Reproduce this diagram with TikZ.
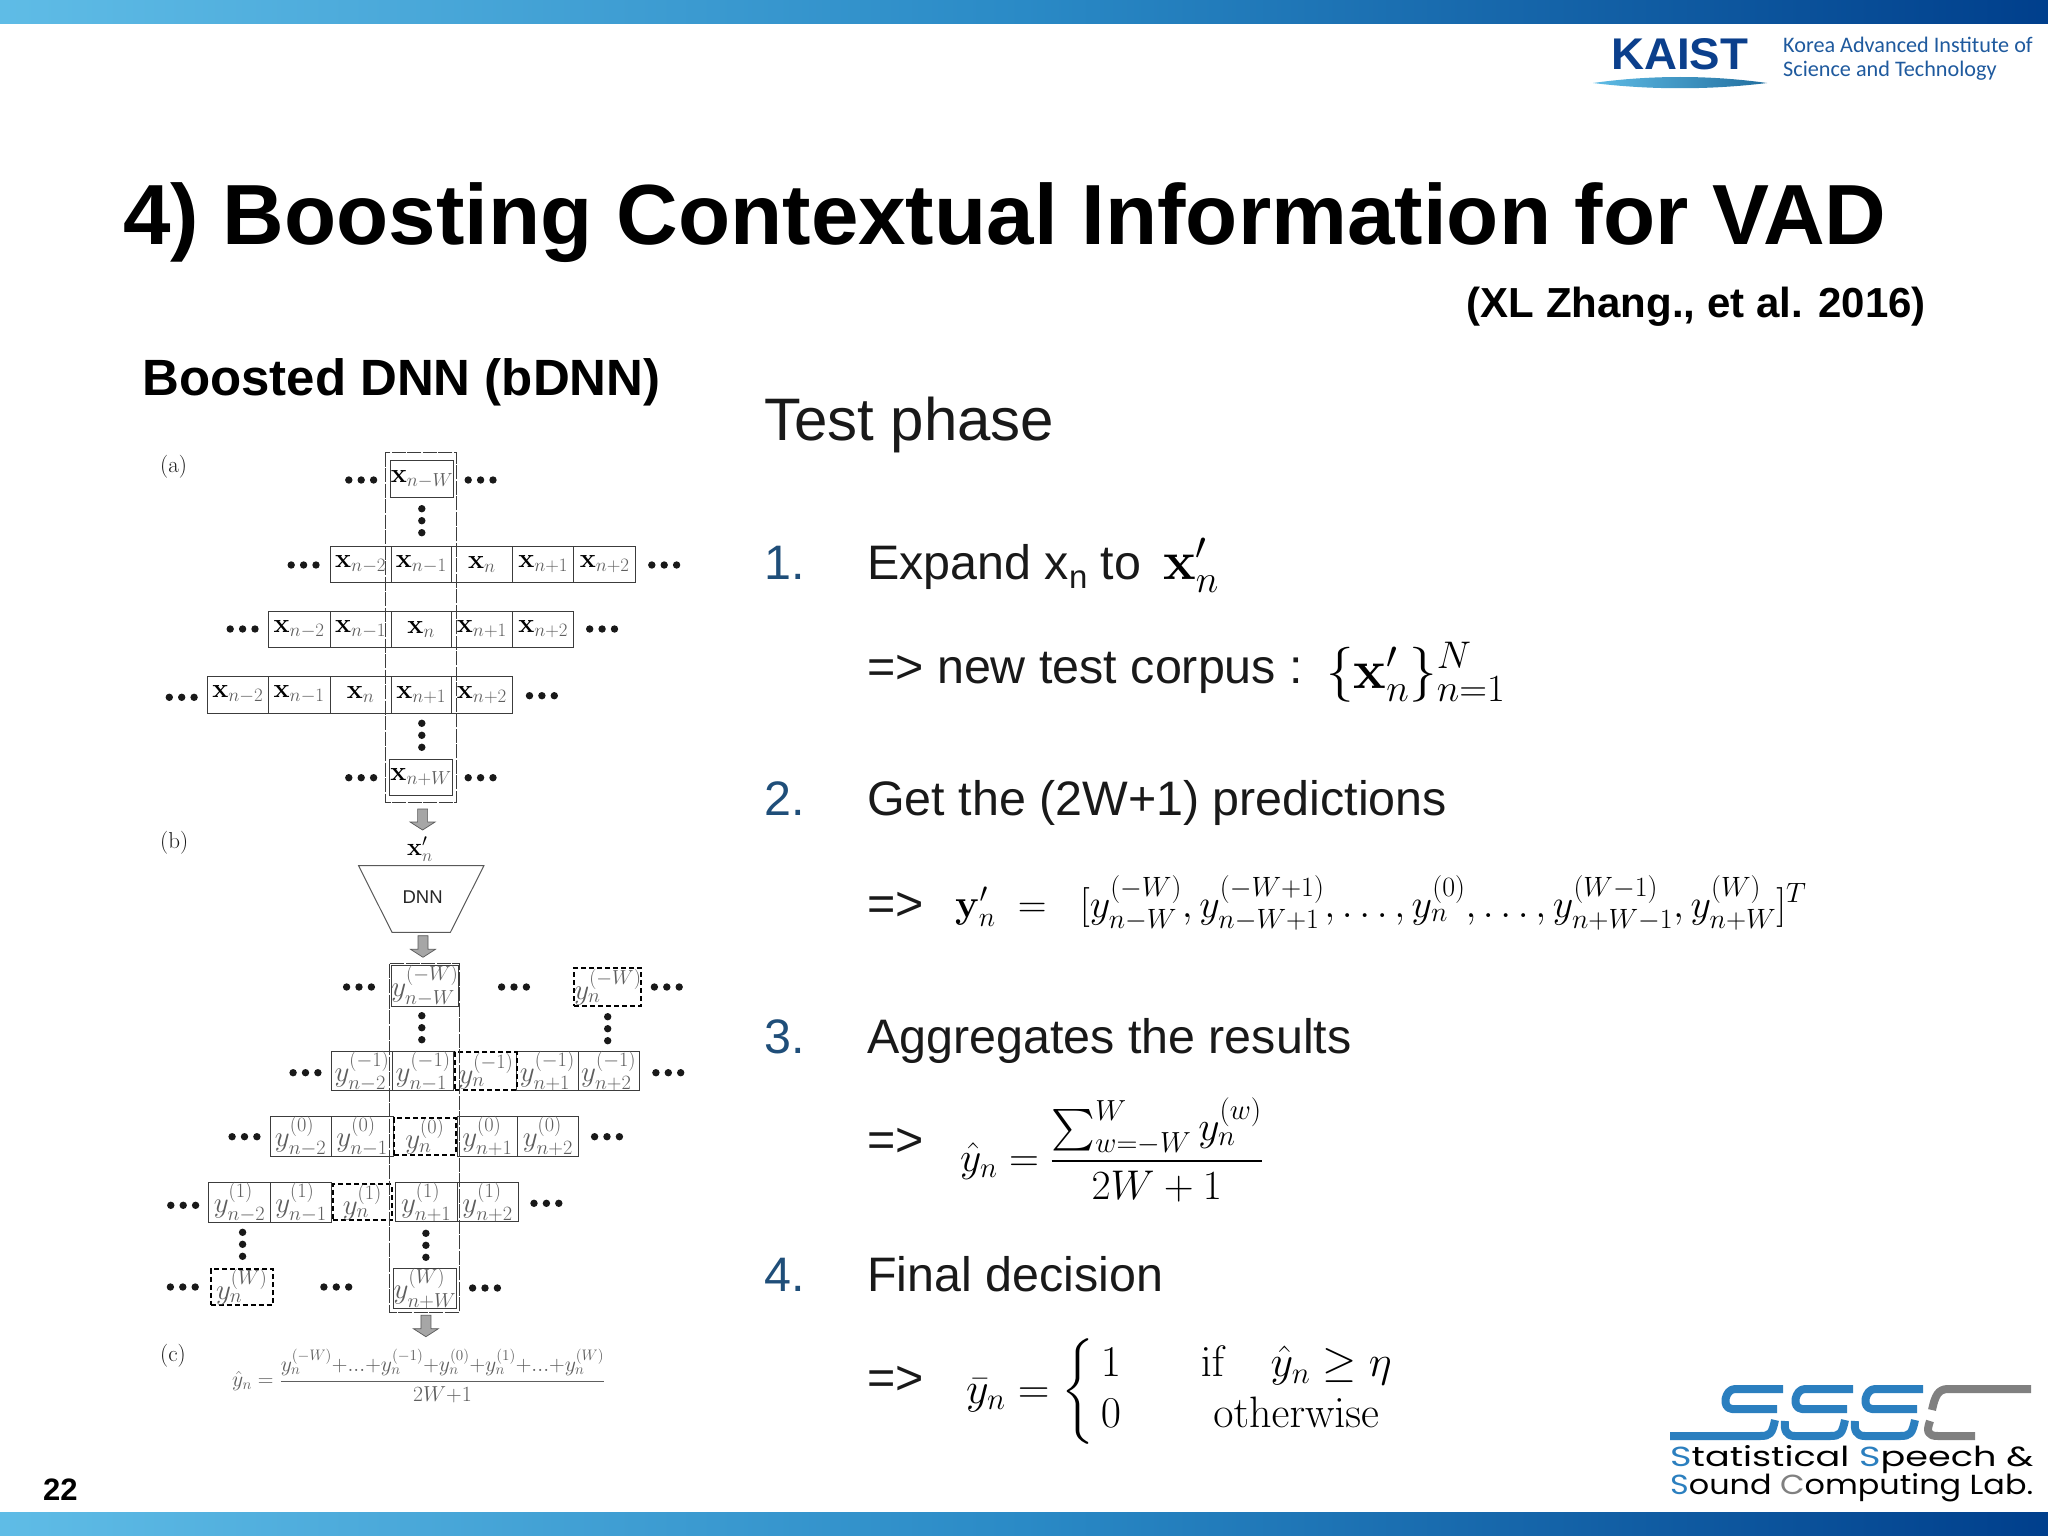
\documentclass[tikz,border=0pt]{standalone}
\usepackage{fix-cm}
\usepackage{amsmath,amssymb,graphicx}
\usepackage[no-math]{fontspec}
\setmainfont{Liberation Sans}
\newfontfamily\carlito{Carlito}
\newfontfamily\popp{Poppins}
\definecolor{fgray}{HTML}{5E5E5E}
\definecolor{numblue}{HTML}{1F4E79}
\definecolor{kaistblue}{HTML}{0B3F8C}
\definecolor{kaisttext}{HTML}{1F5A9E}
\definecolor{ssscblue}{HTML}{2B7FBF}
\definecolor{ssscgray}{HTML}{808080}
\definecolor{cline}{HTML}{3C3C3C}
\definecolor{barL}{HTML}{5FBCE6}
\definecolor{barM}{HTML}{2A8AC6}
\definecolor{barR}{HTML}{003F8C}
\newcommand{\fs}[1]{\fontsize{#1}{#1}\selectfont}
\newcommand{\xc}[1]{\mathbf{x}_{\textcolor{fgray}{#1}}}
\newcommand{\yc}[2]{\textcolor{fgray}{y_{#1}^{(#2)}}}
% cell{name}{x1}{y1}{x2}{y2}{style}{content}
\newcommand{\cellbox}[7]{\node[#6,minimum width={(#4-#2)*1pt},minimum height={(#5-#3)*1pt}] (#1) at ({(#2+#4)/2},{(#3+#5)/2}) {$#7$};}
\newcommand{\hd}[2]{\foreach \dx in {-12.4,0,12.4}{\fill[black!90] ({#1+\dx},#2) circle (3.7);}}
\newcommand{\vd}[2]{\foreach \dy in {-12,0,12}{\fill[black!90] (#1,{#2+\dy}) circle (3.7);}}
\newcommand{\blockarrow}[3]{\draw[blockarrow] ({#1-5},#2) -- ({#1+5},#2) -- ({#1+5},{#3-8}) -- ({#1+12.5},{#3-8}) -- (#1,#3) -- ({#1-12.5},{#3-8}) -- ({#1-5},{#3-8}) -- cycle;}
\tikzset{
  cellx/.style={draw=cline,line width=1pt,inner sep=0pt,font=\fs{27}},
  celly/.style={draw=cline,line width=1pt,inner sep=0pt,font=\fs{29}},
  celld/.style={draw=black,line width=2pt,dash pattern=on 5pt off 3pt,inner sep=0pt,font=\fs{29}},
  outerdash/.style={draw=cline,line width=1pt,dash pattern=on 14pt off 1.5pt},
  blockarrow/.style={draw=black!65,line width=0.7pt,fill=black!35},
  body/.style={anchor=base west,inner sep=0pt,font=\fs{48.4},text=black!90},
  num/.style={anchor=base west,inner sep=0pt,font=\fs{48.4},text=numblue},
  panel/.style={anchor=west,inner sep=0pt,font=\fontfamily{lmr}\fs{23},text=black!90},
  titlet/.style={anchor=base west,inner sep=0pt,font=\bfseries\fs{85.4},text=black},
  sbar/.style={draw=ssscblue,line width=8pt,line cap=butt,line join=round},
  cbar/.style={draw=ssscgray,line width=8pt,line cap=butt,line join=round},
}
\begin{document}
\begin{tikzpicture}[x=1pt,y=-1pt]
\useasboundingbox (0,0) rectangle (2048,1536);
\fill[white] (0,0) rectangle (2048,1536);
% bars
\shade[left color=barL,right color=barR,middle color=barM] (0,0) rectangle (2048,24);
\shade[left color=barL,right color=barR,middle color=barM] (0,1512) rectangle (2048,1536);
% KAIST logo
\node[anchor=north west,inner sep=0pt,text=kaistblue] (kaist) at (1611,38) {\resizebox{137pt}{31pt}{\bfseries KAIST}};
\shade[left color=barL,right color=barM!80!black] (1593,83) .. controls (1650,75) and (1710,75) .. (1767,83) .. controls (1710,90) and (1650,90) .. (1593,83) -- cycle;
\node[anchor=base west,inner sep=0pt,text=kaisttext,font=\carlito\fs{22.2}] (kaistA) at (1783,53) {Korea Advanced Institute of};
\node[anchor=base west,inner sep=0pt,text=kaisttext,font=\carlito\fs{22.2}] (kaistB) at (1783,77) {Science and Technology};
% Title
\node[titlet] (title) at (123,244) {4) Boosting Contextual Information for VAD};
\node[anchor=base east,inner sep=0pt,font=\bfseries\fs{42}] (cite) at (1926,317) {(XL Zhang., et al. 2016)};
\node[anchor=base west,inner sep=0pt,font=\bfseries\fs{51}] (bdnn) at (142,395) {Boosted DNN (bDNN)};
\node[anchor=base west,inner sep=0pt,font=\fs{60},text=black!90] (test) at (764,440) {Test phase};
% Right column
\node[num] (n1) at (764,579) {1.};
\node[body] (t1) at (867,579) {Expand x\raisebox{-9pt}{\fs{33}n} to};
\node[anchor=base west,inner sep=0pt,font=\fs{55}] (f1) at (1163,579) {$\mathbf{x}'_n$};
\node[body] (t1b) at (867,683) {=> new test corpus :};
\node[anchor=base west,inner sep=0pt,font=\fs{55}] (f1b) at (1326,688) {$\{\mathbf{x}'_n\}_{n=1}^{N}$};
\node[num] (n2) at (764,815) {2.};
\node[body] (t2) at (867,815) {Get the (2W+1) predictions};
\node[body] (t2b) at (867,920) {=>};
\node[anchor=base west,inner sep=0pt,font=\fs{39.9}] (f2) at (955,917) {$\mathbf{y}'_n\;=\;\;[y_{n-W}^{(-W)},y_{n-W+1}^{(-W+1)},\dots,y_n^{(0)},\dots,y_{n+W-1}^{(W-1)},y_{n+W}^{(W)}]^T$};
\node[num] (n3) at (764,1053) {3.};
\node[body] (t3) at (867,1053) {Aggregates the results};
\node[body] (t3b) at (867,1156) {=>};
\node[anchor=west,inner sep=0pt,font=\fs{41.5}] (f3) at (960,1150) {$\displaystyle \hat y_n=\frac{\sum_{w=-W}^{W}y_n^{(w)}}{2W+1}$};
\node[num] (n4) at (764,1291) {4.};
\node[body] (t4) at (867,1291) {Final decision};
\node[body] (t4b) at (867,1394) {=>};
\node[anchor=west,inner sep=0pt,font=\fs{44}] (f4) at (966,1392) {\renewcommand{\arraystretch}{1.15}\setlength{\arraycolsep}{40pt}$\displaystyle \bar y_n=\left\{\hspace{-34pt}\begin{array}{cc}1&\mathrm{if}\quad\hat y_n\ge\eta\\0&\mathrm{otherwise}\end{array}\hspace{-40pt}\right.$};
% page number
\node[anchor=base west,inner sep=0pt,font=\bfseries\fs{31}] (page) at (43,1500) {22};
% SSSC logo
\draw[sbar] (1783,1389) -- (1735,1389) .. controls (1725,1389) and (1721,1408) .. (1732,1409) -- (1777,1409);
\draw[sbar] (1775,1420) .. controls (1772,1434) and (1770,1436) .. (1760,1436) -- (1670,1436);
\draw[sbar] (1853,1389) -- (1805,1389) .. controls (1795,1389) and (1791,1408) .. (1802,1409) -- (1847,1409);
\draw[sbar] (1845,1420) .. controls (1842,1434) and (1840,1436) .. (1830,1436) -- (1795,1436) .. controls (1786,1436) and (1784,1430) .. (1785,1421);
\draw[sbar] (1923,1389) -- (1875,1389) .. controls (1865,1389) and (1861,1408) .. (1872,1409) -- (1917,1409);
\draw[sbar] (1915,1420) .. controls (1912,1434) and (1910,1436) .. (1900,1436) -- (1865,1436) .. controls (1856,1436) and (1854,1430) .. (1855,1421);
\draw[cbar] (2031,1389) -- (1948,1389) .. controls (1938,1389) and (1935,1396) .. (1932,1410);
\draw[cbar] (1930,1421) .. controls (1926,1432) and (1928,1436) .. (1938,1436) -- (1975,1436);
\node[anchor=west,inner sep=0pt] (lab1) at (1670,1460) {\resizebox{363pt}{21pt}{\popp\textcolor{ssscblue}{S}tatistical \textcolor{ssscblue}{S}peech \&}};
\node[anchor=west,inner sep=0pt] (lab2) at (1670,1488) {\resizebox{363pt}{21pt}{\popp\textcolor{ssscblue}{S}ound \textcolor{ssscgray}{C}omputing Lab.}};
% ---- Panel (a)
\node[panel] (pa) at (160,467) {(a)};
\cellbox{a0}{391.3}{460.7}{452.7}{497.3}{cellx}{\xc{n-W}}
\cellbox{a1a}{330}{546}{391.3}{582.7}{cellx}{\xc{n-2}}
\cellbox{a1b}{391.3}{546}{451.2}{582.7}{cellx}{\xc{n-1}}
\cellbox{a1c}{451.2}{546}{512.5}{582.7}{cellx}{\xc{n}}
\cellbox{a1d}{512.5}{546}{573.9}{582.7}{cellx}{\xc{n+1}}
\cellbox{a1e}{573.9}{546}{635.6}{582.7}{cellx}{\xc{n+2}}
\cellbox{a2a}{268.3}{611.3}{330}{647.7}{cellx}{\xc{n-2}}
\cellbox{a2b}{330}{611.3}{391.3}{647.7}{cellx}{\xc{n-1}}
\cellbox{a2c}{391.3}{611.3}{451.2}{647.7}{cellx}{\xc{n}}
\cellbox{a2d}{451.2}{611.3}{512.5}{647.7}{cellx}{\xc{n+1}}
\cellbox{a2e}{512.5}{611.3}{573.9}{647.7}{cellx}{\xc{n+2}}
\cellbox{a3a}{207.3}{676.3}{268.3}{713}{cellx}{\xc{n-2}}
\cellbox{a3b}{268.3}{676.3}{330}{713}{cellx}{\xc{n-1}}
\cellbox{a3c}{330}{676.3}{391.3}{713}{cellx}{\xc{n}}
\cellbox{a3d}{391.3}{676.3}{451.2}{713}{cellx}{\xc{n+1}}
\cellbox{a3e}{451.2}{676.3}{512.5}{713}{cellx}{\xc{n+2}}
\cellbox{a4}{389.5}{759}{452.7}{795.7}{cellx}{\xc{n+W}}
\draw[outerdash] (385.4,452.7) rectangle (456.8,802.3);
\hd{361.2}{480}\hd{480.6}{480}\vd{421.8}{520.7}
\hd{303.6}{565}\hd{664.2}{565}
\hd{242.6}{629}\hd{602.1}{629}
\hd{181.7}{697.3}\hd{541.9}{695.7}
\vd{421.8}{735.3}
\hd{361.2}{777.7}\hd{480.6}{777.7}
\blockarrow{422.6}{809}{830}
\node[inner sep=0pt,font=\fs{25}] (xp) at (420,849) {$\mathbf{x}'_{\textcolor{fgray}{n}}$};
% ---- Panel (b)
\node[panel] (pb) at (160,843) {(b)};
\draw[draw=black!65,line width=1pt] (358.6,865.7) -- (483.9,865.7) -- (450.4,932.3) -- (392,932.3) -- cycle;
\node[inner sep=0pt,font=\fs{18.5},text=black!85] (dnn) at (422.6,897) {DNN};
\blockarrow{423}{935.7}{957.3}
\cellbox{b0}{394}{967.7}{455.7}{1004.3}{celly}{\yc{n-W}{-W}}
\cellbox{b0d}{577.2}{968}{638.6}{1005.7}{celld}{\yc{n}{-W}}
\cellbox{b1a}{331.1}{1052.3}{392.8}{1089.7}{celly}{\yc{n-2}{-1}}
\cellbox{b1b}{392.8}{1052.3}{453.4}{1089.7}{celly}{\yc{n-1}{-1}}
\cellbox{b1d}{516.6}{1052.3}{578}{1089.7}{celly}{\yc{n+1}{-1}}
\cellbox{b1e}{578}{1052.3}{639.3}{1089.7}{celly}{\yc{n+2}{-1}}
\cellbox{b1c}{455.3}{1052.3}{516.6}{1089.7}{celld}{\yc{n}{-1}}
\cellbox{b2a}{270.1}{1118}{331.1}{1154.7}{celly}{\yc{n-2}{0}}
\cellbox{b2b}{331.1}{1118}{393.2}{1154.7}{celly}{\yc{n-1}{0}}
\cellbox{b2d}{457}{1118}{517.7}{1154.7}{celly}{\yc{n+1}{0}}
\cellbox{b2e}{517.7}{1118}{578}{1154.7}{celly}{\yc{n+2}{0}}
\cellbox{b2c}{394}{1118}{455.7}{1154.7}{celld}{\yc{n}{0}}
\cellbox{b3a}{208.8}{1184.3}{270.1}{1220}{celly}{\yc{n-2}{1}}
\cellbox{b3b}{270.1}{1184.3}{331.9}{1220}{celly}{\yc{n-1}{1}}
\cellbox{b3d}{395.3}{1184.3}{457}{1220}{celly}{\yc{n+1}{1}}
\cellbox{b3e}{457}{1184.3}{518.1}{1220}{celly}{\yc{n+2}{1}}
\cellbox{b3c}{332.6}{1184.3}{392}{1220}{celld}{\yc{n}{1}}
\cellbox{b4d}{210.7}{1269}{272.8}{1305.3}{celld}{\yc{n}{W}}
\cellbox{b4}{394}{1270}{455.7}{1306.7}{celly}{\yc{n+W}{W}}
\draw[outerdash] (389.9,963.7) rectangle (459.4,1312);
\hd{359}{987}\hd{514}{987}\hd{666.8}{987}
\vd{421.8}{1027.7}\vd{607.7}{1028.7}
\hd{305.5}{1072.7}\hd{668.3}{1072.7}
\hd{244.5}{1136.7}\hd{607}{1136.7}
\hd{183.2}{1205.3}\hd{546.4}{1203.3}
\vd{242.6}{1244.3}\vd{425.9}{1245.3}
\hd{182.8}{1287}\hd{336.3}{1287}\hd{485}{1288}
\blockarrow{425.9}{1315.3}{1336.7}
% ---- Panel (c)
\node[panel] (pc) at (160,1356) {(c)};
\node[anchor=west,inner sep=0pt,font=\fs{21.7},text=fgray] (fc) at (232,1376) {$\hat y_n=\dfrac{y_n^{(-W)}{+}...{+}y_n^{(-1)}{+}y_n^{(0)}{+}y_n^{(1)}{+}...{+}y_n^{(W)}}{2W{+}1}$};
\end{tikzpicture}
\end{document}
